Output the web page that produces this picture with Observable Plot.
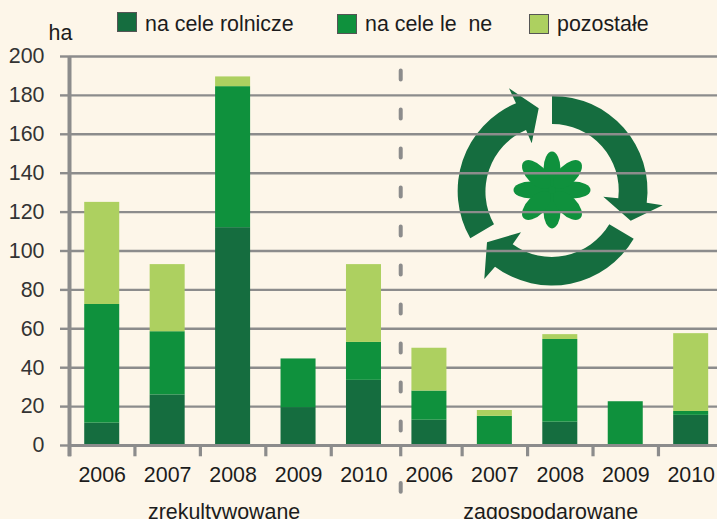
<!DOCTYPE html>
<html lang="pl">
<head>
<meta charset="utf-8">
<script src="https://cdn.jsdelivr.net/npm/d3@7"></script>
<script src="https://cdn.jsdelivr.net/npm/@observablehq/plot@0.6"></script>
<style>
html,body{margin:0;padding:0;background:#fdf6e9}
#chart{position:relative;width:717px;height:519px;overflow:hidden;background:#fdf6e9;font-family:"Liberation Sans",Arial,sans-serif}
#chart>svg{position:absolute;left:0;top:0;background:transparent}
.lg{position:absolute;display:flex;align-items:center;font-size:21.4px;color:#1c1c1c;white-space:pre;line-height:20px}
.lg i{display:block;width:18px;height:18px;border:1.5px solid #555;margin-right:8px;box-sizing:content-box}
</style>
</head>
<body>
<div id="chart">
<svg id="icon" width="717" height="519" viewBox="0 0 717 519" aria-hidden="true">
  <g fill="#156d3f">
    <path d="M552 96 A94.5 94.5 0 0 1 646.7 202.7 L662.7 205.3 L630.7 220.7 L603.3 196.7 L618.3 198.3 A66.5 66.5 0 0 0 552 124 Z"/>
    <path d="M609.3 224.3 L633.7 238.7 A95 95 0 0 1 495 266.7 L484.3 279 L487 242.3 L521 232.3 L512.7 244.3 A67 67 0 0 0 609.3 224.3 Z"/>
    <path d="M470.3 238.3 L494 224.3 A67 67 0 0 1 526 130 L531.7 143.3 L538.7 108.3 L509 88.3 L516 103.3 A95 95 0 0 0 470.3 238.3 Z"/>
  </g>
  <g fill="#0f913d" transform="translate(552 190)">
    <circle r="14"/>
    <ellipse cx="21" rx="17.5" ry="8.5"/>
    <ellipse cx="21" rx="17.5" ry="8.5" transform="rotate(90)"/>
    <ellipse cx="21" rx="17.5" ry="8.5" transform="rotate(180)"/>
    <ellipse cx="21" rx="17.5" ry="8.5" transform="rotate(270)"/>
    <ellipse cx="22" rx="18" ry="9.5" transform="rotate(45)"/>
    <ellipse cx="22" rx="18" ry="9.5" transform="rotate(135)"/>
    <ellipse cx="22" rx="18" ry="9.5" transform="rotate(225)"/>
    <ellipse cx="22" rx="18" ry="9.5" transform="rotate(315)"/>
  </g>
</svg>
<div class="lg" style="left:117px;top:12px"><i style="background:#156d3f"></i><span style="position:relative;top:2px">na cele rolnicze</span></div>
<div class="lg" style="left:337px;top:14px"><i style="background:#0f913d"></i>na cele le  ne</div>
<div class="lg" style="left:529px;top:14px"><i style="background:#add060"></i>pozostałe</div>
</div>
<script>
const years = ["2006","2007","2008","2009","2010"];
const groups = ["zrekultywowane","zagospodarowane"];
const seriesNames = ["na cele rolnicze","na cele leśne","pozostałe"];
const seriesColors = ["#156d3f","#0f913d","#add060"];
const rolnicze = [11.5,26,112,19.5,33.5, 13,0,12,0,15.5];
const lesne    = [61,32.5,72.5,25,19.5, 15,15,42.5,22.5,2];
const pozostale= [52.5,34.5,5,0,40, 22,3,2.5,0,40];
const yTicks = [0,20,40,60,80,100,120,140,160,180,200];

const cats = groups.flatMap(g => years.map(y => g + " " + y));
const rows = [rolnicze, lesne, pozostale].flatMap((vals, s) =>
  vals.map((v, i) => ({cat: cats[i], series: seriesNames[s], value: v})));

const grey = "#8c8c8c";
const halfBand = 32.72;
const divider = cats[5];
const boundaries = cats.filter(c => c !== divider);
const labelSize = 21.4;

const plot = Plot.plot({
  width: 717, height: 519,
  marginTop: 56, marginBottom: 74, marginLeft: 69, marginRight: 0,
  style: {background: "transparent", fontFamily: '"Liberation Sans",Arial,sans-serif', overflow: "hidden"},
  x: {domain: cats, range: [69, 723.4], paddingInner: 0.465, paddingOuter: 0.2325, align: 0.5, round: false, label: null, axis: null},
  y: {domain: [0, 200], range: [445, 56], label: null},
  color: {domain: seriesNames, range: seriesColors},
  marks: [
    Plot.gridY(yTicks, {stroke: grey, strokeOpacity: 1, strokeWidth: 2.4}),
    Plot.barY(rows, {x: "cat", y: "value", fill: "series", order: seriesNames}),
    Plot.ruleY([0], {stroke: grey, strokeWidth: 3}),
    Plot.axisY({ticks: yTicks, tickSize: 9, tickPadding: 16, fontSize: labelSize, color: "#333",
      stroke: grey, strokeWidth: 2.4, strokeOpacity: 1, label: null, marginLeft: 69, fill: "#333"}),
    Plot.ruleX(boundaries, {y1: -5.8, y2: 0, dx: -halfBand, stroke: grey, strokeWidth: 3.2}),
    Plot.ruleX([cats[0]], {y1: -5.8, y2: 200, dx: -halfBand, stroke: grey, strokeWidth: 4}),
    Plot.ruleX([divider], {y1: 192.5, y2: 7, dx: -28.7, stroke: grey, strokeWidth: 4,
      strokeDasharray: "9 30", strokeLinecap: "round"}),
    Plot.ruleX([divider], {y1: 0, y2: -5.8, dx: -28.7, stroke: grey, strokeWidth: 3.2}),
    Plot.ruleX([divider], {y1: -19.5, y2: -24, dx: -28.7, stroke: grey, strokeWidth: 4, strokeLinecap: "round"}),
    Plot.text(cats, {x: d => d, y: 0, text: d => d.slice(-4), dy: 30, fontSize: labelSize, fill: "#1c1c1c"}),
    Plot.text([groups[0]], {x: () => cats[2], y: 0, text: d => d, dy: 66.5, dx: -9, fontSize: labelSize, fill: "#1c1c1c"}),
    Plot.text([groups[1]], {x: () => cats[7], y: 0, text: d => d, dy: 66.5, dx: -9.6, fontSize: labelSize, fill: "#1c1c1c"}),
    Plot.text(["ha"], {frameAnchor: "top-left", dx: -21, dy: -23, lineAnchor: "middle", textAnchor: "start", fontSize: labelSize, fill: "#1c1c1c"})
  ]
});
document.getElementById("chart").appendChild(plot);
</script>
</body>
</html>
